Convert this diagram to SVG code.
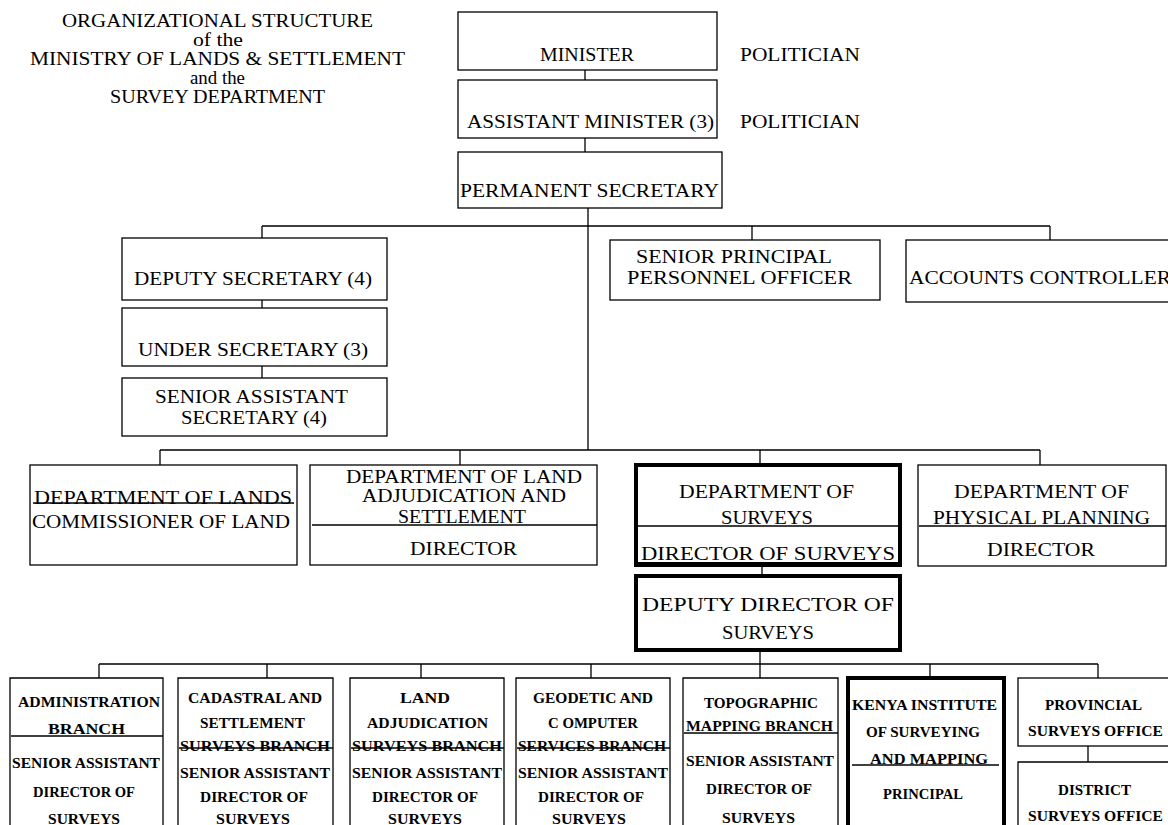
<svg xmlns="http://www.w3.org/2000/svg" width="1168" height="825" viewBox="0 0 1168 825">
<style>
text{font-family:"Liberation Serif","DejaVu Serif",serif;fill:#000;}
.t{font-size:19px;}
.b{font-size:15px;font-weight:bold;}
.box{fill:#fff;stroke:#000;stroke-width:1.3;}
.thick{fill:#fff;stroke:#000;stroke-width:4;}
.ln{stroke:#000;stroke-width:1.3;fill:none;}
</style>
<rect width="1168" height="825" fill="#fff"/>
<g id="title">
<text class="t" x="62" y="27" textLength="311" lengthAdjust="spacingAndGlyphs">ORGANIZATIONAL STRUCTURE</text>
<text class="t" x="193" y="46" textLength="50" lengthAdjust="spacingAndGlyphs">of the</text>
<text class="t" x="30" y="65" textLength="375" lengthAdjust="spacingAndGlyphs">MINISTRY OF LANDS &amp; SETTLEMENT</text>
<text class="t" x="190" y="84" textLength="55" lengthAdjust="spacingAndGlyphs">and the</text>
<text class="t" x="110" y="103" textLength="215" lengthAdjust="spacingAndGlyphs">SURVEY DEPARTMENT</text>
</g>
<g id="connectors">
<path class="ln" d="M585 70V80M585 138V152M588 208V450M262 226H1050M262 226V238M752 226V240M1050 226V240M262 300V308M262 366V378"/>
<path class="ln" d="M160 450H1040M160 450V465M460 450V465M760 450V465M1040 450V465M762 565V576"/>
<path class="ln" d="M760 650V664M99 664H1098M99 664V678M267 664V678M421 664V678M591 664V678M760 664V678M930 664V678M1098 664V678M1088 746V762"/>
</g>
<g id="minister">
<rect class="box" x="458" y="12" width="259" height="58"/>
<text class="t" x="540" y="61" textLength="94" lengthAdjust="spacingAndGlyphs">MINISTER</text>
</g>
<g id="politician1"><text class="t" x="740" y="61" textLength="120" lengthAdjust="spacingAndGlyphs">POLITICIAN</text></g>
<g id="asst-minister">
<rect class="box" x="458" y="80" width="259" height="58"/>
<text class="t" x="467" y="128" textLength="247" lengthAdjust="spacingAndGlyphs">ASSISTANT MINISTER (3)</text>
</g>
<g id="politician2"><text class="t" x="740" y="128" textLength="120" lengthAdjust="spacingAndGlyphs">POLITICIAN</text></g>
<g id="perm-sec">
<rect class="box" x="458" y="152" width="264" height="56"/>
<text class="t" x="460" y="197" textLength="259" lengthAdjust="spacingAndGlyphs">PERMANENT SECRETARY</text>
</g>
<g id="deputy-sec">
<rect class="box" x="122" y="238" width="265" height="62"/>
<text class="t" x="134" y="285" textLength="238" lengthAdjust="spacingAndGlyphs">DEPUTY SECRETARY (4)</text>
</g>
<g id="under-sec">
<rect class="box" x="122" y="308" width="265" height="58"/>
<text class="t" x="138" y="356" textLength="230" lengthAdjust="spacingAndGlyphs">UNDER SECRETARY (3)</text>
</g>
<g id="senior-asst-sec">
<rect class="box" x="122" y="378" width="265" height="58"/>
<text class="t" x="155" y="403" textLength="193" lengthAdjust="spacingAndGlyphs">SENIOR ASSISTANT</text>
<text class="t" x="181" y="424" textLength="146" lengthAdjust="spacingAndGlyphs">SECRETARY (4)</text>
</g>
<g id="sppo">
<rect class="box" x="610" y="240" width="270" height="60"/>
<text class="t" x="636" y="263" textLength="196" lengthAdjust="spacingAndGlyphs">SENIOR PRINCIPAL</text>
<text class="t" x="627" y="284" textLength="225" lengthAdjust="spacingAndGlyphs">PERSONNEL OFFICER</text>
</g>
<g id="accounts">
<rect class="box" x="906" y="240" width="270" height="62"/>
<text class="t" x="909" y="284" textLength="262" lengthAdjust="spacingAndGlyphs">ACCOUNTS CONTROLLER</text>
</g>
<g id="dept-lands">
<rect class="box" x="30" y="465" width="267" height="100"/>
<text class="t" x="34" y="504" textLength="258" lengthAdjust="spacingAndGlyphs">DEPARTMENT OF LANDS</text>
<path class="ln" d="M33 503H294"/>
<text class="t" x="32" y="528" textLength="258" lengthAdjust="spacingAndGlyphs">COMMISSIONER OF LAND</text>
</g>
<g id="dept-land-adj">
<rect class="box" x="310" y="465" width="287" height="100"/>
<text class="t" x="346" y="483" textLength="236" lengthAdjust="spacingAndGlyphs">DEPARTMENT OF LAND</text>
<text class="t" x="362" y="502" textLength="204" lengthAdjust="spacingAndGlyphs">ADJUDICATION AND</text>
<text class="t" x="398" y="523" textLength="128" lengthAdjust="spacingAndGlyphs">SETTLEMENT</text>
<path class="ln" d="M312 525H597"/>
<text class="t" x="410" y="555" textLength="107" lengthAdjust="spacingAndGlyphs">DIRECTOR</text>
</g>
<g id="dept-surveys">
<rect class="thick" x="636" y="465" width="264" height="100"/>
<text class="t" x="679" y="498" textLength="175" lengthAdjust="spacingAndGlyphs">DEPARTMENT OF</text>
<text class="t" x="721" y="524" textLength="92" lengthAdjust="spacingAndGlyphs">SURVEYS</text>
<path class="ln" d="M638 526H898"/>
<text class="t" x="641" y="560" textLength="254" lengthAdjust="spacingAndGlyphs">DIRECTOR OF SURVEYS</text>
<rect x="636" y="562" width="264" height="4" fill="#000"/>
</g>
<g id="dept-physical">
<rect class="box" x="918" y="465" width="248" height="101"/>
<text class="t" x="954" y="498" textLength="175" lengthAdjust="spacingAndGlyphs">DEPARTMENT OF</text>
<text class="t" x="933" y="524" textLength="217" lengthAdjust="spacingAndGlyphs">PHYSICAL PLANNING</text>
<path class="ln" d="M919 526H1166"/>
<text class="t" x="987" y="556" textLength="108" lengthAdjust="spacingAndGlyphs">DIRECTOR</text>
</g>
<g id="deputy-director">
<rect class="thick" x="636" y="576" width="264" height="74"/>
<text class="t" x="642" y="611" textLength="252" lengthAdjust="spacingAndGlyphs">DEPUTY DIRECTOR OF</text>
<text class="t" x="722" y="639" textLength="92" lengthAdjust="spacingAndGlyphs">SURVEYS</text>
</g>
<g id="admin">
<path class="box" d="M10 830V678H163V830"/>
<text class="b" x="18" y="707" textLength="142" lengthAdjust="spacingAndGlyphs">ADMINISTRATION</text>
<text class="b" x="48" y="734" textLength="77" lengthAdjust="spacingAndGlyphs">BRANCH</text>
<path class="ln" d="M11 736H163"/>
<text class="b" x="12" y="768" textLength="148" lengthAdjust="spacingAndGlyphs">SENIOR ASSISTANT</text>
<text class="b" x="33" y="797" textLength="102" lengthAdjust="spacingAndGlyphs">DIRECTOR OF</text>
<text class="b" x="48" y="824" textLength="72" lengthAdjust="spacingAndGlyphs">SURVEYS</text>
</g>
<g id="cadastral">
<path class="box" d="M178 830V678H333V830"/>
<text class="b" x="188" y="703" textLength="134" lengthAdjust="spacingAndGlyphs">CADASTRAL AND</text>
<text class="b" x="200" y="728" textLength="105" lengthAdjust="spacingAndGlyphs">SETTLEMENT</text>
<text class="b" x="180" y="751" textLength="150" lengthAdjust="spacingAndGlyphs">SURVEYS BRANCH</text>
<path class="ln" d="M179 748H333"/>
<text class="b" x="180" y="778" textLength="150" lengthAdjust="spacingAndGlyphs">SENIOR ASSISTANT</text>
<text class="b" x="200" y="802" textLength="108" lengthAdjust="spacingAndGlyphs">DIRECTOR OF</text>
<text class="b" x="216" y="824" textLength="74" lengthAdjust="spacingAndGlyphs">SURVEYS</text>
</g>
<g id="land-adj-branch">
<path class="box" d="M350 830V678H504V830"/>
<text class="b" x="400" y="703" textLength="50" lengthAdjust="spacingAndGlyphs">LAND</text>
<text class="b" x="367" y="728" textLength="121" lengthAdjust="spacingAndGlyphs">ADJUDICATION</text>
<text class="b" x="352" y="751" textLength="150" lengthAdjust="spacingAndGlyphs">SURVEYS BRANCH</text>
<path class="ln" d="M351 748H504"/>
<text class="b" x="352" y="778" textLength="150" lengthAdjust="spacingAndGlyphs">SENIOR ASSISTANT</text>
<text class="b" x="372" y="802" textLength="106" lengthAdjust="spacingAndGlyphs">DIRECTOR OF</text>
<text class="b" x="388" y="824" textLength="74" lengthAdjust="spacingAndGlyphs">SURVEYS</text>
</g>
<g id="geodetic">
<path class="box" d="M516 830V678H670V830"/>
<text class="b" x="533" y="703" textLength="120" lengthAdjust="spacingAndGlyphs">GEODETIC AND</text>
<text class="b" x="548" y="728" textLength="90" lengthAdjust="spacingAndGlyphs">C OMPUTER</text>
<text class="b" x="518" y="751" textLength="148" lengthAdjust="spacingAndGlyphs">SERVICES BRANCH</text>
<path class="ln" d="M517 748H670"/>
<text class="b" x="518" y="778" textLength="150" lengthAdjust="spacingAndGlyphs">SENIOR ASSISTANT</text>
<text class="b" x="538" y="802" textLength="106" lengthAdjust="spacingAndGlyphs">DIRECTOR OF</text>
<text class="b" x="552" y="824" textLength="74" lengthAdjust="spacingAndGlyphs">SURVEYS</text>
</g>
<g id="topographic">
<path class="box" d="M683 830V678H838V830"/>
<text class="b" x="704" y="708" textLength="114" lengthAdjust="spacingAndGlyphs">TOPOGRAPHIC</text>
<text class="b" x="686" y="731" textLength="147" lengthAdjust="spacingAndGlyphs">MAPPING BRANCH</text>
<path class="ln" d="M684 733H838"/>
<text class="b" x="686" y="766" textLength="148" lengthAdjust="spacingAndGlyphs">SENIOR ASSISTANT</text>
<text class="b" x="706" y="794" textLength="106" lengthAdjust="spacingAndGlyphs">DIRECTOR OF</text>
<text class="b" x="722" y="823" textLength="73" lengthAdjust="spacingAndGlyphs">SURVEYS</text>
</g>
<g id="kenya-institute">
<path class="thick" d="M848 830V678H1004V830"/>
<text class="b" x="852" y="710" textLength="145" lengthAdjust="spacingAndGlyphs">KENYA INSTITUTE</text>
<text class="b" x="866" y="737" textLength="114" lengthAdjust="spacingAndGlyphs">OF SURVEYING</text>
<text class="b" x="870" y="764" textLength="118" lengthAdjust="spacingAndGlyphs">AND MAPPING</text>
<path class="ln" d="M852 765H999"/>
<text class="b" x="883" y="799" textLength="80" lengthAdjust="spacingAndGlyphs">PRINCIPAL</text>
</g>
<g id="provincial">
<rect class="box" x="1018" y="678" width="160" height="68"/>
<text class="b" x="1045" y="710" textLength="97" lengthAdjust="spacingAndGlyphs">PROVINCIAL</text>
<text class="b" x="1028" y="736" textLength="135" lengthAdjust="spacingAndGlyphs">SURVEYS OFFICE</text>
</g>
<g id="district">
<path class="box" d="M1018 830V762H1178"/>
<text class="b" x="1058" y="795" textLength="73" lengthAdjust="spacingAndGlyphs">DISTRICT</text>
<text class="b" x="1028" y="821" textLength="135" lengthAdjust="spacingAndGlyphs">SURVEYS OFFICE</text>
</g>
</svg>
